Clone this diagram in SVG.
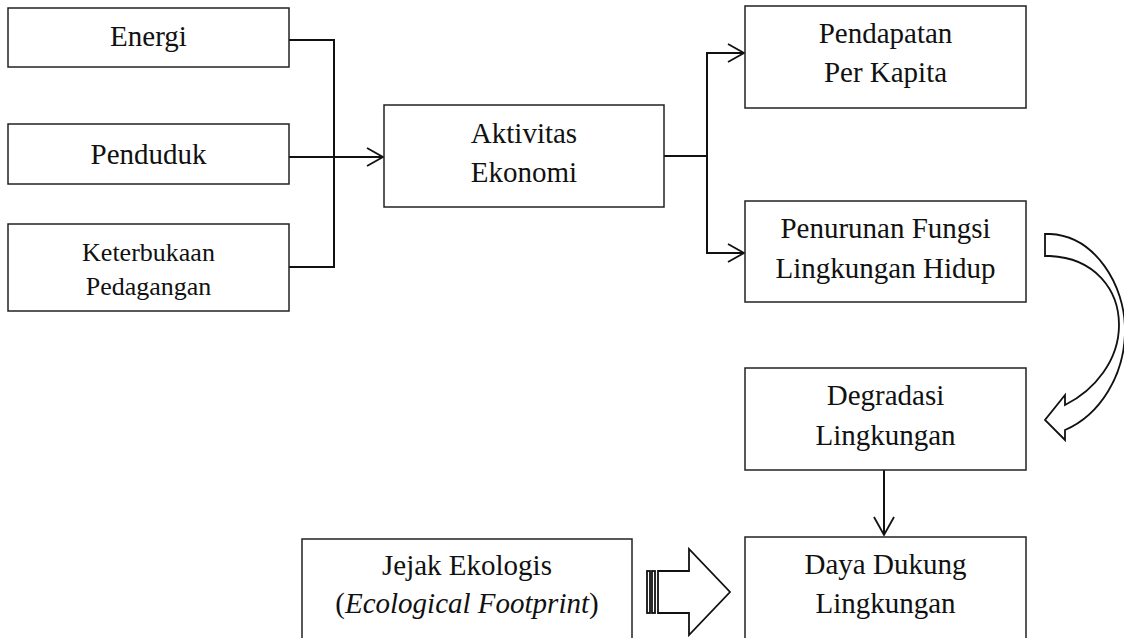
<svg xmlns="http://www.w3.org/2000/svg" width="1124" height="638" viewBox="0 0 1124 638">
<style>
.box{fill:#fff;stroke:#222;stroke-width:1.5}
.t{font-family:"Liberation Serif","Times New Roman",serif;font-size:29px;fill:#111;text-anchor:middle}
.ts{font-size:26px}
.c{fill:none;stroke:#111;stroke-width:2}
.ah{fill:none;stroke:#111;stroke-width:1.8}
.shape{fill:#fff;stroke:#111;stroke-width:1.8;stroke-linejoin:miter}
</style>
<rect width="1124" height="638" fill="#fff"/>
<g id="connectors">
<path class="c" d="M289,40 H334 V267 H289"/>
<path class="c" d="M289,157 H383"/>
<path class="ah" d="M367,148 L383,157 L367,166"/>
<path class="c" d="M664,156 H707"/>
<path class="c" d="M744,53 H707 V253 H744"/>
<path class="ah" d="M728,44 L744,53 L728,62"/>
<path class="ah" d="M728,244 L744,253 L728,262"/>
<path class="c" d="M884,470 V535"/>
<path class="ah" d="M874,517 L884,535 L894,517"/>
<path id="curved-arrow" class="shape" d="M1045,234 L1050,234 C1095,236 1125,285 1125,330 C1125,375 1100,415 1065,430 L1065,440 L1045,420 L1065,395 L1065,405 C1095,390 1119,360 1119,325 C1119,290 1095,258 1050,256 L1045,256 Z"/>
<g id="striped-arrow">
<rect class="shape" x="647" y="571" width="3" height="42"/>
<rect class="shape" x="652" y="571" width="3" height="42"/>
<path class="shape" d="M658,571 L689,571 L689,549 L730,592 L689,635 L689,613 L658,613 Z"/>
</g>
</g>
<g id="energi"><rect class="box" x="8" y="8" width="281" height="59"/>
<text class="t" x="148.5" y="46">Energi</text></g>
<g id="penduduk"><rect class="box" x="8" y="124" width="281" height="60"/>
<text class="t" x="148.5" y="164">Penduduk</text></g>
<g id="keterbukaan"><rect class="box" x="8" y="224" width="281" height="87"/>
<text class="t ts" x="148.5" y="261">Keterbukaan</text>
<text class="t ts" x="148.5" y="295">Pedagangan</text></g>
<g id="aktivitas"><rect class="box" x="384" y="105" width="280" height="102"/>
<text class="t" x="524" y="143">Aktivitas</text>
<text class="t" x="524" y="182">Ekonomi</text></g>
<g id="pendapatan"><rect class="box" x="745" y="6" width="281" height="102"/>
<text class="t" x="885.5" y="43">Pendapatan</text>
<text class="t" x="885.5" y="82">Per Kapita</text></g>
<g id="penurunan"><rect class="box" x="745" y="201" width="281" height="101"/>
<text class="t" x="885.5" y="238">Penurunan Fungsi</text>
<text class="t" x="885.5" y="278">Lingkungan Hidup</text></g>
<g id="degradasi"><rect class="box" x="745" y="368" width="281" height="102"/>
<text class="t" x="885.5" y="405">Degradasi</text>
<text class="t" x="885.5" y="445">Lingkungan</text></g>
<g id="daya-dukung"><rect class="box" x="745" y="537" width="281" height="110"/>
<text class="t" x="885.5" y="574">Daya Dukung</text>
<text class="t" x="885.5" y="613">Lingkungan</text></g>
<g id="jejak-ekologis"><rect class="box" x="302" y="539" width="330" height="110"/>
<text class="t" x="467" y="575">Jejak Ekologis</text>
<text class="t" x="467" y="613">(<tspan font-style="italic">Ecological Footprint</tspan>)</text></g>
</svg>
